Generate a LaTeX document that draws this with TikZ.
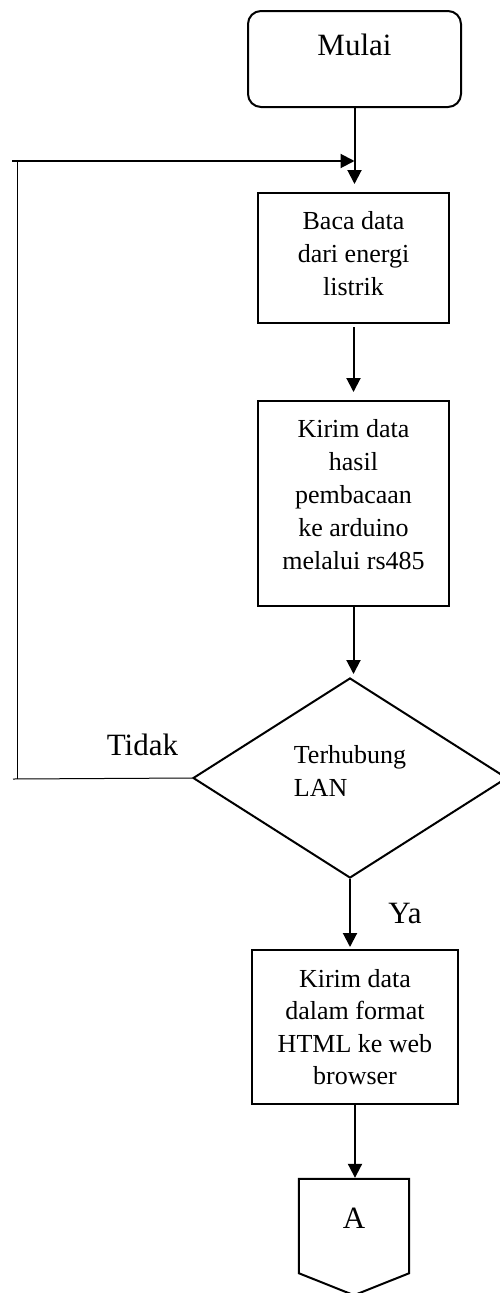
\documentclass[tikz,border=0pt]{standalone}
\usepackage{fontspec}
\setmainfont{Liberation Serif}
\usetikzlibrary{arrows.meta,shapes.geometric,calc}
\begin{document}
\begin{tikzpicture}[x=1pt,y=-1pt,
  flow/.style={line width=2pt,-{Triangle[width=14pt,length=14pt]}},
  loopline/.style={line width=1pt},
  boxtext/.style={font=\fontsize{26}{33}\selectfont},
  bigtext/.style={font=\fontsize{31}{37}\selectfont},
  proc/.style={draw,line width=2pt,align=center,inner sep=0pt,boxtext},
  terminal/.style={draw,line width=2pt,rounded corners=13pt,inner sep=0pt,bigtext},
  decision/.style={draw,diamond,line width=2pt,align=left,inner sep=0pt,boxtext},
  connector/.style={inner sep=0pt,bigtext}
]
\useasboundingbox (0,0) rectangle (500,1293);

% start
\node[terminal,minimum width=213pt,minimum height=96pt,text depth=29pt]
  (mulai) at (354.5,59) {Mulai};

% processing steps
\node[proc,minimum width=191pt,minimum height=130pt,text depth=8.8pt]
  (baca) at (353.5,258) {Baca data\\dari energi\\listrik};
\node[proc,minimum width=191pt,minimum height=205pt,text depth=18.8pt]
  (kirim) at (353.5,503.5) {Kirim data\\hasil\\pembacaan\\ke arduino\\melalui rs485};

% LAN check
\node[decision,minimum width=314pt,minimum height=200pt,text depth=14.8pt]
  (lan) at (350,778) {Terhubung\\LAN};

% send to browser
\node[proc,minimum width=206pt,minimum height=154pt,text depth=0pt,
      font=\fontsize{26}{32.5}\selectfont]
  (html) at (355,1027) {Kirim data\\dalam format\\HTML ke web\\browser};

% off-page connector A
\node[connector,minimum width=110pt,minimum height=94pt,text depth=14.5pt]
  (offA) at (354,1226) {A};
\draw[line width=2pt,line join=miter]
  (offA.north west) -- (offA.south west) -- ($(offA.south)+(0,22)$)
  -- (offA.south east) -- (offA.north east) -- cycle;

% branch labels
\node[bigtext,anchor=base,inner sep=0pt] (tidak) at (142.5,755) {Tidak};
\node[bigtext,anchor=base,inner sep=0pt] (ya) at (405,923) {Ya};

% main flow
\draw[flow,shorten >=8pt] (mulai.south) -- (mulai.south |- baca.north);
\draw[flow,shorten <=3pt,shorten >=8pt] (baca.south) -- (baca.south |- kirim.north);
\draw[flow,shorten >=3pt] (kirim.south) -- (kirim.south |- lan.north);
\draw[flow,shorten >=2pt] (lan.south) -- (lan.south |- html.north);
\draw[flow,shorten >=1pt] (html.south) -- (html.south |- offA.north);

% "Tidak" loop back to the reading step
\coordinate (loopBL) at (13,779);
\coordinate (loopB) at (17,779);
\coordinate (loopT) at (17,161);
\coordinate (loopTL) at (12,161);
\draw[loopline] (lan.west) -- (loopBL);
\draw[loopline] (loopB) -- (loopT);
\draw[flow] (loopTL) -- (mulai.south |- loopTL);
\end{tikzpicture}
\end{document}
